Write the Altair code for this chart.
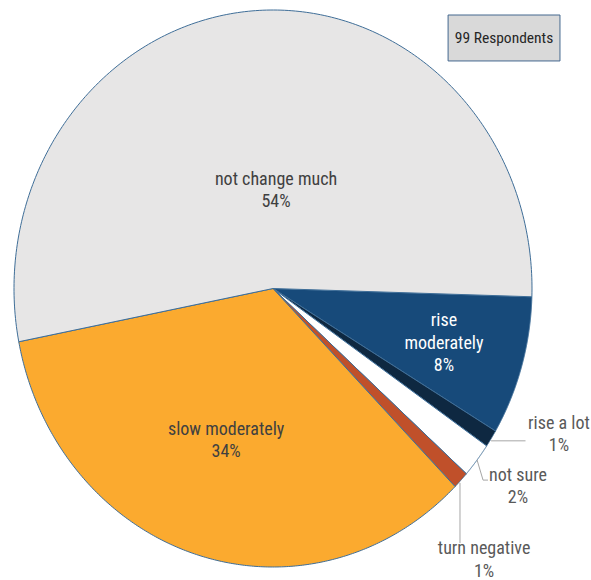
import altair as alt
import pandas as pd

# ---------------- data ----------------
names = ["rise moderately", "rise a lot", "not sure", "turn negative",
         "slow moderately", "not change much"]
counts = [8, 1, 2, 1, 34, 53]
display_names = ["rise\nmoderately", "rise a lot", "not sure", "turn negative",
                 "slow moderately", "not change much"]
respondents_label = "99 Respondents"

# ---------------- styles ----------------
slice_colors = ["#174A7A", "#0E2841", "#FFFFFF", "#C0502A", "#FBAA2F", "#E7E6E6"]
text_colors = ["#FFFFFF", "#595959", "#595959", "#595959", "#404040", "#404040"]
FONT = "Roboto Condensed, DejaVu Sans Condensed, Liberation Sans Narrow, Roboto"
START = 1.6005  # radians, clockwise from 12 o'clock
N = 240

# ---------------- layout (normalized ellipse coordinates, first-line centre) ----------------
label_pos = {
    "rise moderately": (0.660, -0.117),
    "rise a lot": (1.104, -0.485),
    "not sure": (0.946, -0.673),
    "turn negative": (0.815, -0.9354),
    "slow moderately": (-0.181, -0.508),
    "not change much": (0.0116, 0.3896),
}
leaders = pd.DataFrame({
    "x": [0.842, 0.788, 0.811, 0.722],
    "y": [-0.547, -0.616, -0.688, -0.698],
    "x2": [0.975, 0.811, 0.830, 0.722],
    "y2": [-0.547, -0.688, -0.688, -0.914],
})
box = pd.DataFrame({"x": [0.676], "x2": [1.108], "y": [0.982], "y2": [0.817],
                    "tx": [0.892], "ty": [0.8995], "t": [respondents_label]})

slices = pd.DataFrame({"k": list(range(len(names))), "name": names, "count": counts,
                       "disp": display_names,
                       "lx": [label_pos[n][0] for n in names],
                       "ly": [label_pos[n][1] for n in names]})

xs = alt.Scale(domain=[-1, 1], nice=False, zero=False)
ys = alt.Scale(domain=[-1, 1], nice=False, zero=False)

pie = alt.Chart(slices).transform_joinaggregate(
    total="sum(count)"
).transform_window(
    cum="sum(count)", sort=[alt.SortField("k")], frame=[None, 0]
).transform_calculate(
    a0=f"{START} + 2*PI*(datum.cum - datum.count)/datum.total",
    a1=f"{START} + 2*PI*datum.cum/datum.total",
    seq=f"sequence(-1, {N + 2})",
).transform_flatten(
    ["seq"], as_=["i"]
).transform_calculate(
    r=f"(datum.i < 0 || datum.i > {N}) ? 0 : 1",
    ang=f"datum.a0 + (datum.a1 - datum.a0) * clamp(datum.i, 0, {N}) / {N}",
    px="datum.r * sin(datum.ang)",
    py="datum.r * cos(datum.ang)",
).mark_line(strokeWidth=1, stroke="#3F6E98", strokeJoin="round").encode(
    x=alt.X("px:Q", scale=xs, axis=None),
    y=alt.Y("py:Q", scale=ys, axis=None),
    order=alt.Order("i:Q"),
    detail="name:N",
    fill=alt.Fill("name:N", scale=alt.Scale(domain=names, range=slice_colors), legend=None),
)

labels = alt.Chart(slices).transform_joinaggregate(
    total="sum(count)"
).transform_calculate(
    label="datum.disp + '\\n' + round(100*datum.count/datum.total) + '%'"
).mark_text(font=FONT, fontSize=18, lineHeight=22.5, lineBreak="\n",
            align="center", baseline="middle").encode(
    x=alt.X("lx:Q", scale=xs, axis=None),
    y=alt.Y("ly:Q", scale=ys, axis=None),
    text="label:N",
    color=alt.Color("name:N", scale=alt.Scale(domain=names, range=text_colors), legend=None),
)

lead = alt.Chart(leaders).mark_rule(color="#A6A6A6", strokeWidth=1).encode(
    x=alt.X("x:Q", scale=xs, axis=None), y=alt.Y("y:Q", scale=ys, axis=None),
    x2="x2:Q", y2="y2:Q",
)

boxrect = alt.Chart(box).mark_rect(fill="#D9D9D9", stroke="#44688F", strokeWidth=1).encode(
    x=alt.X("x:Q", scale=xs, axis=None), y=alt.Y("y:Q", scale=ys, axis=None),
    x2="x2:Q", y2="y2:Q",
)
boxtext = alt.Chart(box).mark_text(font=FONT, fontSize=15.5, color="#262626",
                                   align="center", baseline="middle").encode(
    x=alt.X("tx:Q", scale=xs, axis=None), y=alt.Y("ty:Q", scale=ys, axis=None),
    text="t:N",
)

chart = alt.layer(pie, lead, labels, boxrect, boxtext).resolve_scale(
    fill="independent", color="independent"
).properties(
    width=518, height=557,
    autosize=alt.AutoSizeParams(type="none"),
    padding={"left": 14, "top": 10, "right": 59, "bottom": 13},
    background="white",
).configure_view(stroke=None)

chart.save("out.html", embed_options={"renderer": "svg", "actions": False})
